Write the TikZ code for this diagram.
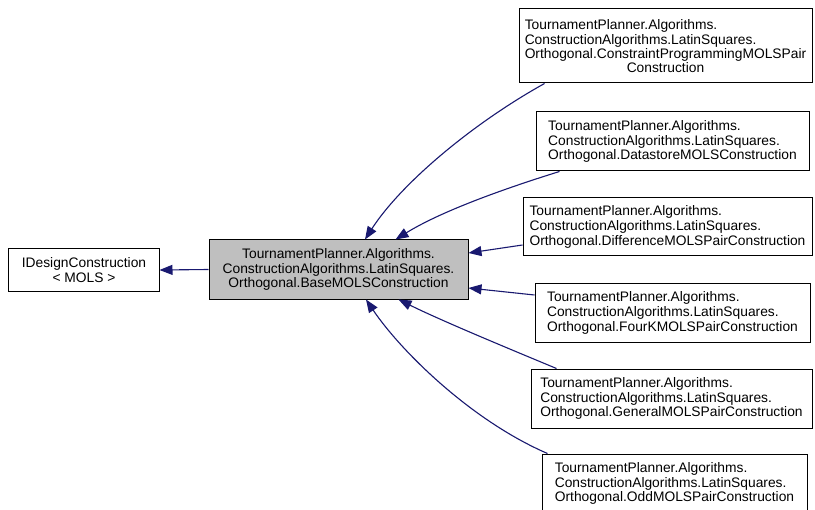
\documentclass[tikz,border=0pt]{standalone}
\usepackage{fontspec}
\setmainfont{Liberation Sans}
\usetikzlibrary{arrows.meta,calc}
\definecolor{edgeblue}{HTML}{191970}
\definecolor{basegray}{HTML}{BFBFBF}
\tikzset{
  classbox/.style={draw=black, line width=1bp, fill=white, inner sep=0pt,
    font=\fontsize{13.8bp}{14.6bp}\selectfont},
  inherit/.style={draw=edgeblue, line width=1.1bp,
    -{Triangle[length=13bp,width=10bp,fill=edgeblue]}},
}
\begin{document}
\begin{tikzpicture}[x=1bp,y=-1bp]
\useasboundingbox (0,0) rectangle (815,510);
\clip (0,0) rectangle (815,510);
\fill[white] (0,0) rectangle (815,510);

% interface and base class
\node[classbox, align=center, minimum width=150bp, minimum height=42bp]
  (idc) at (84,270) {IDesignConstruction\\\textless{} MOLS \textgreater{}};
\node[classbox, fill=basegray, align=center, minimum width=259bp, minimum height=59bp]
  (base) at (338.5,269.5)
  {TournamentPlanner.Algorithms.\\ConstructionAlgorithms.LatinSquares.\\Orthogonal.BaseMOLSConstruction};

% derived constructions
\node[classbox, align=center, minimum width=293bp, minimum height=74bp]
  (cp) at (665.5,46)
  {\begin{tabular}{@{}l@{}}TournamentPlanner.Algorithms.\\ConstructionAlgorithms.LatinSquares.\\Orthogonal.ConstraintProgrammingMOLSPair\end{tabular}\\[-1.3bp]Construction};
\node[classbox, align=left, minimum width=273bp, minimum height=59bp]
  (ds) at (672.5,141.5)
  {TournamentPlanner.Algorithms.\\ConstructionAlgorithms.LatinSquares.\\Orthogonal.DatastoreMOLSConstruction};
\node[classbox, align=left, minimum width=289bp, minimum height=58bp]
  (diff) at (667.5,227)
  {TournamentPlanner.Algorithms.\\ConstructionAlgorithms.LatinSquares.\\Orthogonal.DifferenceMOLSPairConstruction};
\node[classbox, align=left, minimum width=275bp, minimum height=58bp]
  (fourk) at (672.5,313)
  {TournamentPlanner.Algorithms.\\ConstructionAlgorithms.LatinSquares.\\Orthogonal.FourKMOLSPairConstruction};
\node[classbox, align=left, minimum width=281bp, minimum height=59bp]
  (gen) at (671.5,398.5)
  {TournamentPlanner.Algorithms.\\ConstructionAlgorithms.LatinSquares.\\Orthogonal.GeneralMOLSPairConstruction};
\node[classbox, align=left, minimum width=265bp, minimum height=59bp]
  (odd) at (674.5,483.5)
  {TournamentPlanner.Algorithms.\\ConstructionAlgorithms.LatinSquares.\\Orthogonal.OddMOLSPairConstruction};

% inheritance arrows (y grows downwards here)
\draw[inherit] (base.west) -- (idc.east);
\draw[inherit] ($(cp.south west)+(26,0)$)
  .. controls (470,125) and (400,185) .. ($(base.north)+(26.5,0)$);
\draw[inherit] ($(ds.south west)+(24,0)$)
  .. controls (500,190) and (440,212) .. ($(base.north)+(57,0)$);
\draw[inherit] ($(diff.west)+(0,18)$) -- ($(base.east)+(0,-16.5)$);
\draw[inherit] ($(fourk.west)+(0,-18)$) -- ($(base.east)+(0,18.5)$);
\draw[inherit] ($(gen.north west)+(26,0)$)
  .. controls (500,345) and (440,320) .. ($(base.south)+(60,0)$);
\draw[inherit] ($(odd.north west)+(6,0)$)
  .. controls (470,420) and (400,350) .. ($(base.south)+(27.5,0)$);
\end{tikzpicture}
\end{document}
